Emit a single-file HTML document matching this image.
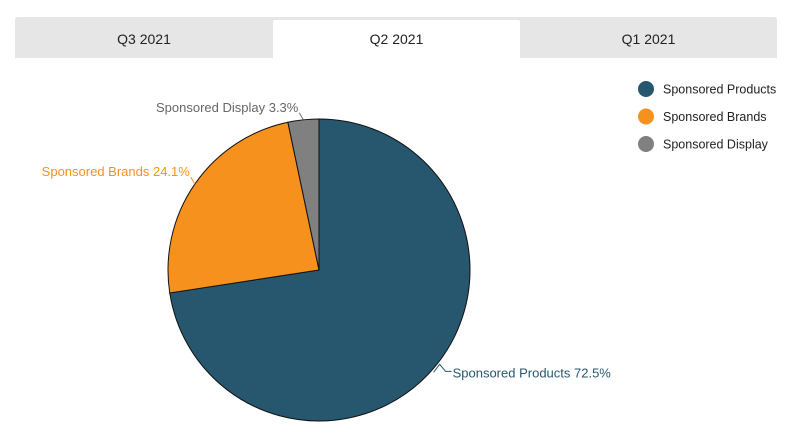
<!DOCTYPE html>
<html><head><meta charset="utf-8"><style>
body{margin:0;width:800px;height:434px;background:#fff;font-family:"Liberation Sans",sans-serif;overflow:hidden;position:relative}
.tabs{position:absolute;left:15px;top:17px;width:762px;height:41px;background:#e6e6e6;border-radius:3px 3px 0 0}
.tab{position:absolute;top:0;height:41px;line-height:44px;text-align:center;font-size:14px;color:#222}
.tab.active{background:#fff;top:3px;height:38px;line-height:38px;border-radius:2px 2px 0 0}
</style></head><body>
<div class="tabs">
<div class="tab" style="left:0;width:258px">Q3 2021</div>
<div class="tab active" style="left:258px;width:247px">Q2 2021</div>
<div class="tab" style="left:505px;width:257px">Q1 2021</div>
</div>
<svg id="chart" width="800" height="434" style="position:absolute;left:0;top:0"></svg>
<script>
const categories=["Sponsored Products","Sponsored Brands","Sponsored Display"];
const values=[72.5,24.1,3.3];
const colors=["#26576f","#f7911e","#808080"];
const labelColors=["#26576f","#f7911e","#666666"];
const svg=document.getElementById('chart');
const NS="http://www.w3.org/2000/svg";
const cx=319,cy=270,r=151;
const total=values.reduce((a,b)=>a+b,0);
function pt(a,rr){return [cx+rr*Math.sin(a),cy-rr*Math.cos(a)];}
function mk(t,attrs){const e=document.createElementNS(NS,t);for(const k in attrs)e.setAttribute(k,attrs[k]);svg.appendChild(e);return e;}
let start=0;
values.forEach((v,i)=>{
  const a0=start/total*2*Math.PI,a1=(start+v)/total*2*Math.PI;start+=v;
  const p0=pt(a0,r),p1=pt(a1,r),large=(a1-a0)>Math.PI?1:0;
  const s=mk('path',{d:`M${cx},${cy}L${p0[0]},${p0[1]}A${r},${r} 0 ${large} 1 ${p1[0]},${p1[1]}Z`,fill:colors[i],stroke:'#111','stroke-width':1});
  
  
  const am=(a0+a1)/2,e=pt(am,r),right=Math.sin(am)>0;
  let d,tx,ty;
  if(right){d=`M${e[0]},${e[1]+4}L${e[0]+6},${e[1]-4}L${e[0]+12},${e[1]+3}L${e[0]+18},${e[1]+3}`;tx=e[0]+19;ty=e[1]+9;}
  else{d=`M${e[0]},${e[1]}L${e[0]-4},${e[1]-7}`;tx=e[0]-5;ty=e[1]-8;}
  const c=mk('path',{d:d,fill:'none',stroke:labelColors[i],'stroke-width':1});
  
  
  const t=mk('text',{x:tx,y:ty,'font-size':13,fill:labelColors[i],'text-anchor':right?'start':'end','font-family':'Liberation Sans, sans-serif'});
  t.textContent=categories[i]+' '+v+'%';
  
  
});
categories.forEach((c,i)=>{
  const y=89+i*27.5;
  const ci=mk('circle',{cx:646,cy:y,r:8,fill:colors[i]});
  
  
  const t=mk('text',{x:663,y:y+4.5,'font-size':12.5,fill:'#222','font-family':'Liberation Sans, sans-serif'});
  t.textContent=c;
  
  
});
</script>
</body></html>
